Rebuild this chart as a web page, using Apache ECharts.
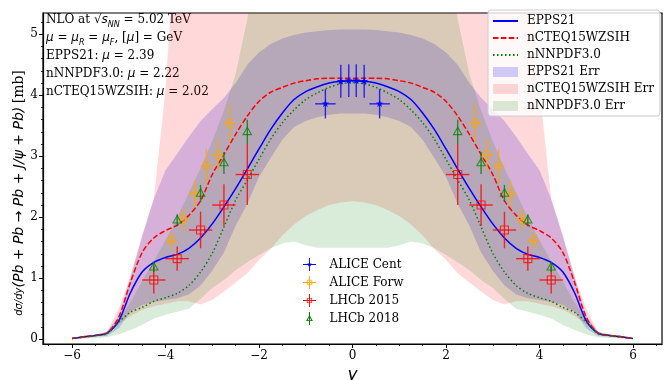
<!DOCTYPE html>
<html>
<head>
<meta charset="utf-8">
<script src="https://cdn.jsdelivr.net/npm/echarts@6/dist/echarts.min.js"></script>
<style>
  html, body { margin: 0; padding: 0; background: #fff; }
  #chart { width: 664px; height: 380px; }
</style>
</head>
<body>
<div id="chart"></div>
<script>
// rapidity grid (the predictions are symmetric in y, listed for y >= 0)
const rapidity = [0, 0.25, 0.5, 0.75, 1, 1.25, 1.5, 1.75, 2, 2.25, 2.5, 2.75, 3, 3.25, 3.5, 3.75, 4, 4.25, 4.5, 4.75, 5, 5.25, 5.5, 5.75, 6];

// central curves
const epps21 = [4.24, 4.23, 4.20, 4.14, 4.06, 3.93, 3.71, 3.44, 3.12, 2.79, 2.47, 2.17, 1.89, 1.66, 1.49, 1.39, 1.34, 1.26, 1.10, 0.76, 0.30, 0.10, 0.06, 0.04, 0.01];
const ncteq = [4.28, 4.28, 4.28, 4.27, 4.24, 4.20, 4.13, 4.05, 3.90, 3.66, 3.36, 3.03, 2.70, 2.27, 2.03, 1.87, 1.78, 1.66, 1.42, 0.93, 0.36, 0.10, 0.06, 0.04, 0.01];
const nnpdf = [4.21, 4.19, 4.13, 4.04, 3.93, 3.76, 3.55, 3.28, 2.95, 2.61, 2.28, 1.84, 1.41, 1.10, 0.88, 0.75, 0.68, 0.62, 0.52, 0.44, 0.28, 0.09, 0.06, 0.03, 0.01];

// error bands
const eppsLo = [3.70, 3.70, 3.68, 3.64, 3.58, 3.48, 3.27, 2.97, 2.66, 2.22, 1.86, 1.42, 1.12, 0.88, 0.73, 0.67, 0.64, 0.61, 0.56, 0.45, 0.18, 0.05, 0.04, 0.02, 0.00];
const eppsHi = [5.08, 5.08, 5.07, 5.05, 5.03, 4.99, 4.93, 4.84, 4.70, 4.50, 4.20, 3.96, 3.77, 3.58, 3.32, 3.04, 2.77, 2.30, 1.68, 1.02, 0.38, 0.12, 0.07, 0.05, 0.02];
const ncteqLo = [2.26, 2.24, 2.20, 2.12, 2.02, 1.88, 1.70, 1.48, 1.30, 1.08, 0.93, 0.78, 0.64, 0.57, 0.62, 0.62, 0.58, 0.54, 0.48, 0.38, 0.25, 0.08, 0.04, 0.02, 0.00];
const ncteqHi = [9, 9, 9, 9, 9, 9, 9, 9, 9, 9, 9, 9, 9, 8.8, 8.2, 7.0, 4.1, 2.30, 1.71, 1.03, 0.50, 0.12, 0.07, 0.04, 0.01];
const nnpdfLo = [1.50, 1.50, 1.50, 1.50, 1.54, 1.60, 1.57, 1.49, 1.38, 1.26, 1.13, 0.97, 0.84, 0.66, 0.50, 0.45, 0.40, 0.34, 0.23, 0.15, 0.08, 0.03, 0.02, 0.01, 0.00];
const nnpdfHi = [8.5, 8.5, 8.4, 8.2, 8.0, 7.7, 7.3, 6.9, 6.4, 5.25, 4.35, 3.75, 3.25, 2.8, 2.4, 2.0, 1.62, 1.28, 0.95, 0.6, 0.32, 0.12, 0.07, 0.04, 0.01];

// measurements
const aliceCentY = [-0.58, -0.25, -0.08, 0.08, 0.25, 0.58];
const aliceCentV = [3.86, 4.23, 4.24, 4.24, 4.23, 3.86];
const aliceCentXErr = [0.22, 0.085, 0.085, 0.085, 0.085, 0.22];
const aliceCentYErr = [0.24, 0.27, 0.27, 0.27, 0.27, 0.24];

const aliceForwY = [-3.875, -3.625, -3.375, -3.125, -2.875, -2.625, 2.625, 2.875, 3.125, 3.375, 3.625, 3.875];
const aliceForwV = [1.62, 1.96, 2.39, 2.84, 3.02, 3.54, 3.54, 3.02, 2.84, 2.39, 1.96, 1.62];
const aliceForwXErr = [0.125, 0.125, 0.125, 0.125, 0.125, 0.125, 0.125, 0.125, 0.125, 0.125, 0.125, 0.125];
const aliceForwYErr = [0.14, 0.18, 0.22, 0.28, 0.25, 0.31, 0.31, 0.25, 0.28, 0.22, 0.18, 0.14];

const lhcbY = [-4.25, -3.75, -3.25, -2.75, -2.25, 2.25, 2.75, 3.25, 3.75, 4.25];
const lhcb15V = [0.97, 1.32, 1.79, 2.20, 2.70, 2.70, 2.20, 1.79, 1.32, 0.97];
const lhcb15XErr = [0.25, 0.25, 0.25, 0.25, 0.25, 0.25, 0.25, 0.25, 0.25, 0.25];
const lhcb15YErr = [0.22, 0.20, 0.30, 0.34, 0.50, 0.50, 0.34, 0.30, 0.20, 0.22];
const lhcb18V = [1.18, 1.95, 2.39, 2.89, 3.40, 3.40, 2.89, 2.39, 1.95, 1.18];
const lhcb18XErr = [0, 0, 0, 0, 0, 0, 0, 0, 0, 0];
const lhcb18YErr = [0.08, 0.10, 0.14, 0.18, 0.20, 0.20, 0.18, 0.14, 0.10, 0.08];

// ticks
const xTicks = [-6, -4, -2, 0, 2, 4, 6];
const xMinorTicks = [-6.5, -6, -5.5, -5, -4.5, -4, -3.5, -3, -2.5, -2, -1.5, -1, -0.5, 0, 0.5, 1, 1.5, 2, 2.5, 3, 3.5, 4, 4.5, 5, 5.5, 6, 6.5];
const yTicks = [0, 1, 2, 3, 4, 5];
const yMinorTicks = [0, 0.2, 0.4, 0.6, 0.8, 1, 1.2, 1.4, 1.6, 1.8, 2, 2.2, 2.4, 2.6, 2.8, 3, 3.2, 3.4, 3.6, 3.8, 4, 4.2, 4.4, 4.6, 4.8, 5, 5.2];

const SERIF = "'DejaVu Serif', serif";
const SANS = "'DejaVu Sans', sans-serif";
const BLUE = '#0000ff';
const RED = '#ff0000';
const GREEN = '#008000';
const ORANGE = '#ffa500';
const EPPS_BAND = 'rgba(0, 0, 255, 0.19)';
const NCTEQ_BAND = 'rgba(255, 0, 0, 0.15)';
const NNPDF_BAND = 'rgba(0, 128, 0, 0.15)';

function mirrored(values) {
  const pts = [];
  for (let i = rapidity.length - 1; i > 0; i--) pts.push([-rapidity[i], values[i]]);
  for (let i = 0; i < rapidity.length; i++) pts.push([rapidity[i], values[i]]);
  return pts;
}

// a filled band between lo and hi, drawn as one polygon through the axes
function bandSeries(name, lo, hi, color) {
  const loPts = mirrored(lo);
  const hiPts = mirrored(hi);
  return {
    name, type: 'custom', clip: true, silent: true, z: 2,
    itemStyle: { color },
    encode: { x: 0, y: 2 },
    data: loPts.map((p, i) => [p[0], p[1], hiPts[i][1]]),
    renderItem(params, api) {
      if (params.dataIndexInside !== 0) return null;
      const n = params.dataInsideLength;
      const upper = [];
      const lower = [];
      for (let i = 0; i < n; i++) {
        upper.push(api.coord([api.value(0, i), api.value(2, i)]));
        lower.push(api.coord([api.value(0, i), api.value(1, i)]));
      }
      return {
        type: 'polygon',
        shape: { points: upper.concat(lower.reverse()) },
        style: { fill: color },
      };
    },
  };
}

function curveSeries(name, values, color, type) {
  return {
    name, type: 'line', data: mirrored(values), symbol: 'none', smooth: 0.3, z: 4,
    itemStyle: { color }, lineStyle: { color, width: 1.5, type },
  };
}

function markerShape(kind, x, y, color) {
  const open = { fill: 'none', stroke: color, lineWidth: 1.1, opacity: 0.75 };
  if (kind === 'star') {
    const pts = [];
    for (let k = 0; k < 10; k++) {
      const r = k % 2 ? 1.7 : 4;
      const a = -Math.PI / 2 + k * Math.PI / 5;
      pts.push([x + r * Math.cos(a), y + r * Math.sin(a)]);
    }
    return { type: 'polygon', shape: { points: pts }, style: { fill: color, opacity: 0.85 } };
  }
  if (kind === 'circle') return { type: 'circle', shape: { cx: x, cy: y, r: 4 }, style: open };
  if (kind === 'square') return { type: 'rect', shape: { x: x - 4, y: y - 4, width: 8, height: 8 }, style: open };
  return { type: 'polygon', shape: { points: [[x, y - 4.6], [x + 4.2, y + 2.8], [x - 4.2, y + 2.8]] }, style: open };
}

function errorBarSeries(name, ys, vals, xErr, yErr, color, marker) {
  return {
    name, type: 'custom', z: 6,
    itemStyle: { color },
    encode: { x: 0, y: 1 },
    data: ys.map((y, i) => [y, vals[i], xErr[i], yErr[i]]),
    renderItem(params, api) {
      const x = api.value(0), v = api.value(1), xe = api.value(2), ye = api.value(3);
      const c = api.coord([x, v]);
      const top = api.coord([x, v + ye]);
      const bottom = api.coord([x, v - ye]);
      const bar = { stroke: color, lineWidth: 1.4, opacity: 0.8 };
      const children = [{ type: 'line', shape: { x1: c[0], y1: top[1], x2: c[0], y2: bottom[1] }, style: bar }];
      if (xe > 0) {
        const l = api.coord([x - xe, v]);
        const r = api.coord([x + xe, v]);
        children.push({ type: 'line', shape: { x1: l[0], y1: c[1], x2: r[0], y2: c[1] }, style: bar });
      }
      children.push(markerShape(marker, c[0], c[1], color));
      return { type: 'group', children };
    },
  };
}

const CROSS = 'M0 9.3H20V10.7H0Z M9.3 0H10.7V20H9.3Z';
const legendPoints = [
  { name: 'ALICE Cent', icon: 'path://' + CROSS + ' M10 6L11 8.6L13.8 8.7L11.6 10.4L12.4 13.1L10 11.5L7.6 13.1L8.4 10.4L6.2 8.7L9 8.6Z' },
  { name: 'ALICE Forw', icon: 'path://' + CROSS + ' M10 5.5A4.5 4.5 0 1 1 10 14.5A4.5 4.5 0 1 1 10 5.5Z M10 6.6A3.4 3.4 0 1 0 10 13.4A3.4 3.4 0 1 0 10 6.6Z' },
  { name: 'LHCb 2015', icon: 'path://' + CROSS + ' M6 6H14V14H6Z M7.1 7.1V12.9H12.9V7.1Z' },
  { name: 'LHCb 2018', icon: 'path://M9.4 2H10.6V18H9.4Z M10 5.5L14.2 13H5.8Z M10 7.8L7.7 12H12.3Z' },
];

const richText = {
  rm: { fontFamily: SERIF, fontSize: 12, color: '#000', lineHeight: 18 },
  it: { fontFamily: SANS, fontStyle: 'italic', fontSize: 12, color: '#000', lineHeight: 18 },
  sy: { fontFamily: SANS, fontSize: 12, color: '#000', lineHeight: 18 },
  sub: { fontFamily: SANS, fontStyle: 'italic', fontSize: 8, color: '#000', lineHeight: 18, verticalAlign: 'bottom' },
};

const annotation = [
  '{rm|NLO at }{sy|√}{it|s}{sub|NN}{rm| = 5.02 TeV}',
  '{it|μ}{rm| = }{it|μ}{sub|R}{rm| = }{it|μ}{sub|F}{rm|, [}{it|μ}{rm|] = GeV}',
  '{rm|EPPS21: }{it|μ}{rm| = 2.39}',
  '{rm|nNNPDF3.0: }{it|μ}{rm| = 2.22}',
  '{rm|nCTEQ15WZSIH: }{it|μ}{rm| = 2.02}',
].join('\n');

const chart = echarts.init(document.getElementById('chart'));

const tickLabel = (v) => String(v).replace('-', '\u2212');
const hideSymbol = { opacity: 0 };

chart.setOption({
  animation: false,
  backgroundColor: '#fff',
  grid: { left: 43, right: 2, top: 13, bottom: 36, show: true, borderColor: '#000', borderWidth: 1.2, outerBoundsMode: 'none' },
  xAxis: [
    {
      type: 'value', min: -6.62, max: 6.62, position: 'bottom', z: 10,
      axisLine: { onZero: false, lineStyle: { color: '#000', width: 1.2 } },
      axisTick: { customValues: xTicks, length: 4, lineStyle: { color: '#000', width: 1 } },
      axisLabel: { customValues: xTicks, formatter: tickLabel, color: '#000', fontFamily: SERIF, fontSize: 12, margin: 6 },
      splitLine: { show: false },
      name: 'y', nameLocation: 'middle', nameGap: 14,
      nameTextStyle: { fontFamily: SANS, fontStyle: 'italic', fontSize: 17, color: '#000' },
    },
    {
      type: 'value', min: -6.62, max: 6.62, position: 'bottom', z: 10,
      axisLine: { show: false, onZero: false },
      axisTick: { customValues: xMinorTicks, length: 2, lineStyle: { color: '#000', width: 0.8 } },
      axisLabel: { show: false }, splitLine: { show: false },
    },
  ],
  yAxis: [
    {
      type: 'value', min: -0.08, max: 5.35, position: 'left', z: 10,
      axisLine: { show: true, onZero: false, lineStyle: { color: '#000', width: 1.2 } },
      axisTick: { show: true, customValues: yTicks, length: 4, lineStyle: { color: '#000', width: 1 } },
      axisLabel: { customValues: yTicks, color: '#000', fontFamily: SERIF, fontSize: 12, margin: 5 },
      splitLine: { show: false },
    },
    {
      type: 'value', min: -0.08, max: 5.35, position: 'left', z: 10,
      axisLine: { show: false, onZero: false },
      axisTick: { show: true, customValues: yMinorTicks, length: 2, lineStyle: { color: '#000', width: 0.8 } },
      axisLabel: { show: false }, splitLine: { show: false },
    },
  ],
  legend: [
    {
      orient: 'vertical', left: 488, top: 10, padding: [4, 6, 3, 4],
      itemWidth: 25, itemHeight: 10, itemGap: 3,
      backgroundColor: 'rgba(255,255,255,0.8)', borderColor: '#cccccc', borderWidth: 1, borderRadius: 3,
      textStyle: { fontFamily: SERIF, fontSize: 12, color: '#000', lineHeight: 14, padding: [0, 0, 0, 4] },
      selectedMode: false,
      data: [
        { name: 'EPPS21', itemStyle: hideSymbol },
        { name: 'nCTEQ15WZSIH', itemStyle: hideSymbol },
        { name: 'nNNPDF3.0', itemStyle: hideSymbol },
        { name: 'EPPS21 Err', icon: 'rect', itemStyle: { color: EPPS_BAND } },
        { name: 'nCTEQ15WZSIH Err', icon: 'rect', itemStyle: { color: NCTEQ_BAND } },
        { name: 'nNNPDF3.0 Err', icon: 'rect', itemStyle: { color: NNPDF_BAND } },
      ],
    },
    {
      orient: 'vertical', left: 303, top: 258, padding: 0,
      itemWidth: 24, itemHeight: 13, itemGap: 5,
      textStyle: { fontFamily: SERIF, fontSize: 12, color: '#000', lineHeight: 13, padding: [0, 0, 0, 3] },
      selectedMode: false,
      data: legendPoints,
    },
  ],
  graphic: [
    {
      type: 'text', x: 46, y: 11,
      style: { text: annotation, rich: richText },
    },
    {
      type: 'text', x: 19, y: 193, rotation: Math.PI / 2,
      style: {
        text: '{fr|dσ/dy}{it|(Pb + Pb → Pb + J/ψ + Pb)} {rm|[mb]}',
        align: 'center', verticalAlign: 'middle',
        rich: {
          fr: { fontFamily: SANS, fontStyle: 'italic', fontSize: 10, color: '#000' },
          it: { fontFamily: SANS, fontStyle: 'italic', fontSize: 14, color: '#000' },
          rm: { fontFamily: SERIF, fontSize: 14, color: '#000' },
        },
      },
    },
  ],
  series: [
    bandSeries('EPPS21 Err', eppsLo, eppsHi, EPPS_BAND),
    bandSeries('nCTEQ15WZSIH Err', ncteqLo, ncteqHi, NCTEQ_BAND),
    bandSeries('nNNPDF3.0 Err', nnpdfLo, nnpdfHi, NNPDF_BAND),
    curveSeries('EPPS21', epps21, BLUE, 'solid'),
    curveSeries('nCTEQ15WZSIH', ncteq, RED, [5.5, 2.4]),
    curveSeries('nNNPDF3.0', nnpdf, GREEN, [1.5, 2.5]),
    errorBarSeries('ALICE Cent', aliceCentY, aliceCentV, aliceCentXErr, aliceCentYErr, BLUE, 'star'),
    errorBarSeries('ALICE Forw', aliceForwY, aliceForwV, aliceForwXErr, aliceForwYErr, ORANGE, 'circle'),
    errorBarSeries('LHCb 2015', lhcbY, lhcb15V, lhcb15XErr, lhcb15YErr, RED, 'square'),
    errorBarSeries('LHCb 2018', lhcbY, lhcb18V, lhcb18XErr, lhcb18YErr, GREEN, 'triangle'),
  ],
});
</script>
</body>
</html>
